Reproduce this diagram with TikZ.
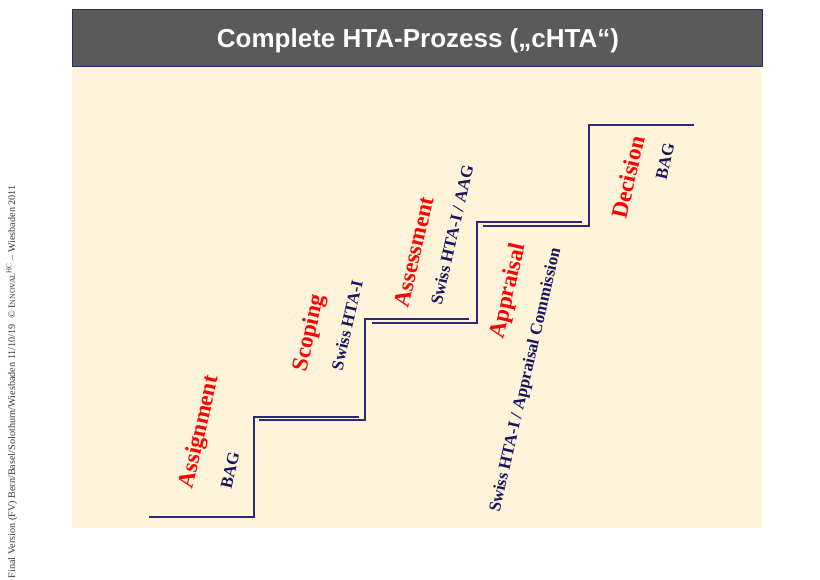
\documentclass[tikz,border=0pt]{standalone}
\usepackage{fontspec}
\setmainfont{Liberation Serif}
\setsansfont{Liberation Sans}
\usetikzlibrary{positioning}
\definecolor{panelcream}{RGB}{255,244,217}
\definecolor{bargray}{RGB}{90,90,90}
\definecolor{stepnavy}{RGB}{45,40,115}
\definecolor{textnavy}{RGB}{25,20,95}
\definecolor{phasered}{RGB}{255,0,0}
\definecolor{footgray}{RGB}{60,60,60}
\tikzset{
  phase/.style={text=phasered, font=\bfseries\fontsize{23}{23}\selectfont, rotate=77, inner sep=0pt},
  actor/.style={text=textnavy, font=\bfseries\fontsize{17}{17}\selectfont, rotate=77, inner sep=0pt},
  stair/.style={draw=stepnavy, line width=1.8pt}
}

\begin{document}
\begin{tikzpicture}[x=1pt, y=1pt]
    \useasboundingbox (0,0) rectangle (820,580);

    % Panel and title bar
    \fill[panelcream] (72,52) rectangle (761,513);
    \draw[draw=stepnavy, line width=1pt, fill=bargray] (72,513) rectangle (762,570);
    \node[text=white, font=\sffamily\bfseries\fontsize{26}{26}\selectfont] (title) at (418,539) {Complete HTA-Prozess („cHTA“)};

    % Stairs
    \draw[stair] (149,63) -- (254,63) -- (254,163) -- (359,163);
    \draw[stair] (259,160) -- (365,160) -- (365,261) -- (469,261);
    \draw[stair] (372,257) -- (477,257) -- (477,358) -- (582,358);
    \draw[stair] (483,354) -- (589,354) -- (589,455) -- (694,455);

    % Phases and actors
    \node[phase] (assign) at (200,148) {Assignment};
    \node[actor] (assignBAG) at (230,110) {BAG};
    \node[phase] (scope) at (310,247) {Scoping};
    \node[actor] (scopeHTA) at (347,255) {Swiss HTA-I};
    \node[phase] (assess) at (414,328) {Assessment};
    \node[actor] (assessHTA) at (452,345) {Swiss HTA-I / AAG};
    \node[phase] (apprais) at (509,289) {Appraisal};
    \node[actor] (appraisHTA) at (526,200) {Swiss HTA-I / Appraisal Commission};
    \node[phase] (decis) at (628,403) {Decision};
    \node[actor] (decisBAG) at (665,419) {BAG};

    % Footer
    \node[rotate=90, anchor=east, inner sep=0pt, text=footgray, font=\fontsize{10.2}{10.2}\selectfont] (footer) at (12,395)
        {Final Version (FV) Bern/Basel/Solothurn/Wiesbaden 11/10/19\ \ © I{\fontsize{7.8}{7.8}\selectfont NNOVAL}\textsuperscript{HC} -- Wiesbaden 2011};
\end{tikzpicture}
\end{document}
